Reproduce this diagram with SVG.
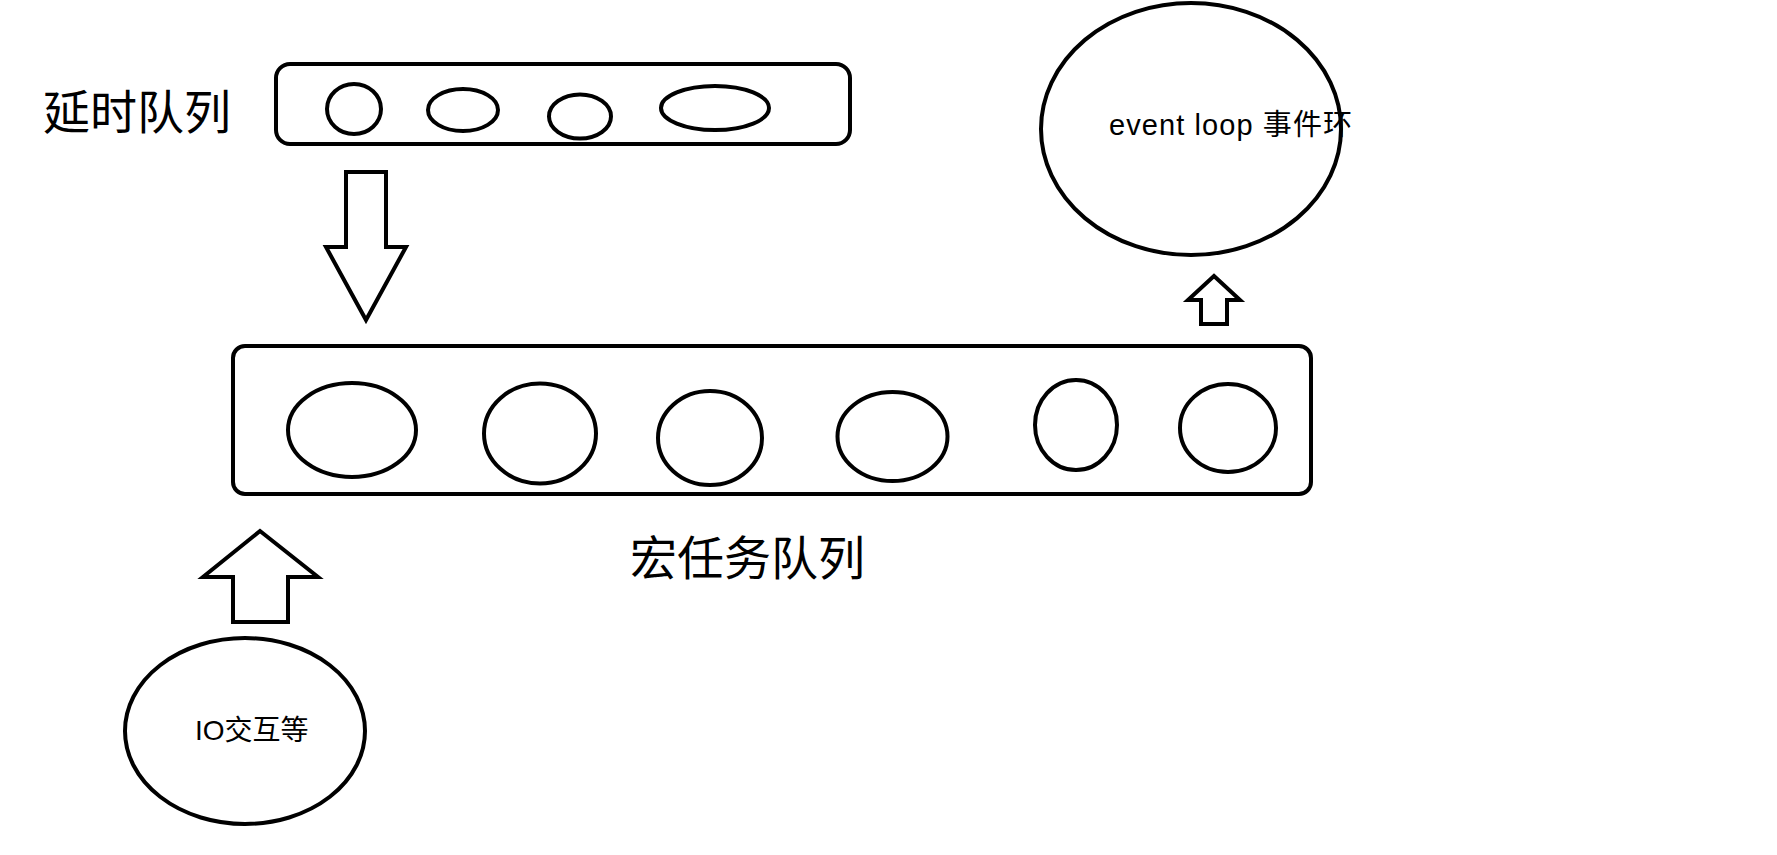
<svg xmlns="http://www.w3.org/2000/svg" width="1777" height="855" viewBox="0 0 1777 855">
<style>
.s{fill:none;stroke:#000;stroke-width:4}
.a{fill:#fff;stroke:#000;stroke-width:4;stroke-linejoin:miter}
.t{font-family:"Liberation Sans","Noto Sans CJK SC",sans-serif;fill:#000}
.c{font-family:"Noto Sans CJK SC",sans-serif;fill:#000}
</style>
<rect width="1777" height="855" fill="#fff"/>
<g id="delay-label"><text class="c" x="43" y="129" font-size="47">延时队列</text></g>
<g id="delay-queue">
<rect class="s" x="276" y="64" width="574" height="80" rx="14"/>
<ellipse class="s" cx="354" cy="109" rx="27" ry="25"/>
<ellipse class="s" cx="463" cy="110" rx="35" ry="21"/>
<ellipse class="s" cx="580" cy="116.5" rx="31" ry="22"/>
<ellipse class="s" cx="715" cy="108" rx="54" ry="22"/>
</g>
<g id="event-loop">
<ellipse class="s" cx="1191" cy="129" rx="150" ry="126"/>
<text class="t" x="1109" y="135" font-size="29" textLength="243" lengthAdjust="spacing">event loop 事件环</text>
</g>
<g id="macro-queue">
<rect class="s" x="233" y="346" width="1078" height="148" rx="12"/>
<ellipse class="s" cx="352" cy="430" rx="64" ry="47"/>
<ellipse class="s" cx="540" cy="433.5" rx="56" ry="50"/>
<ellipse class="s" cx="710" cy="438" rx="52" ry="47"/>
<ellipse class="s" cx="892.5" cy="436.5" rx="55" ry="44.5"/>
<ellipse class="s" cx="1076" cy="425" rx="41" ry="45"/>
<ellipse class="s" cx="1228" cy="428" rx="48" ry="44"/>
</g>
<g id="macro-label"><text class="c" x="630" y="575" font-size="47">宏任务队列</text></g>
<g id="io">
<ellipse class="s" cx="245" cy="731" rx="120" ry="93"/>
<text class="t" x="195" y="740" font-size="28">IO交互等</text>
</g>
<g id="connectors">
<polygon class="a" points="346,172 386,172 386,247 406,247 366,320 326,247 346,247"/>
<polygon class="a" points="1214,276 1240,300 1227,300 1227,324 1201,324 1201,300 1188,300"/>
<polygon class="a" points="260,531 318,577 288,577 288,622 233,622 233,577 203,577"/>
</g>
</svg>
